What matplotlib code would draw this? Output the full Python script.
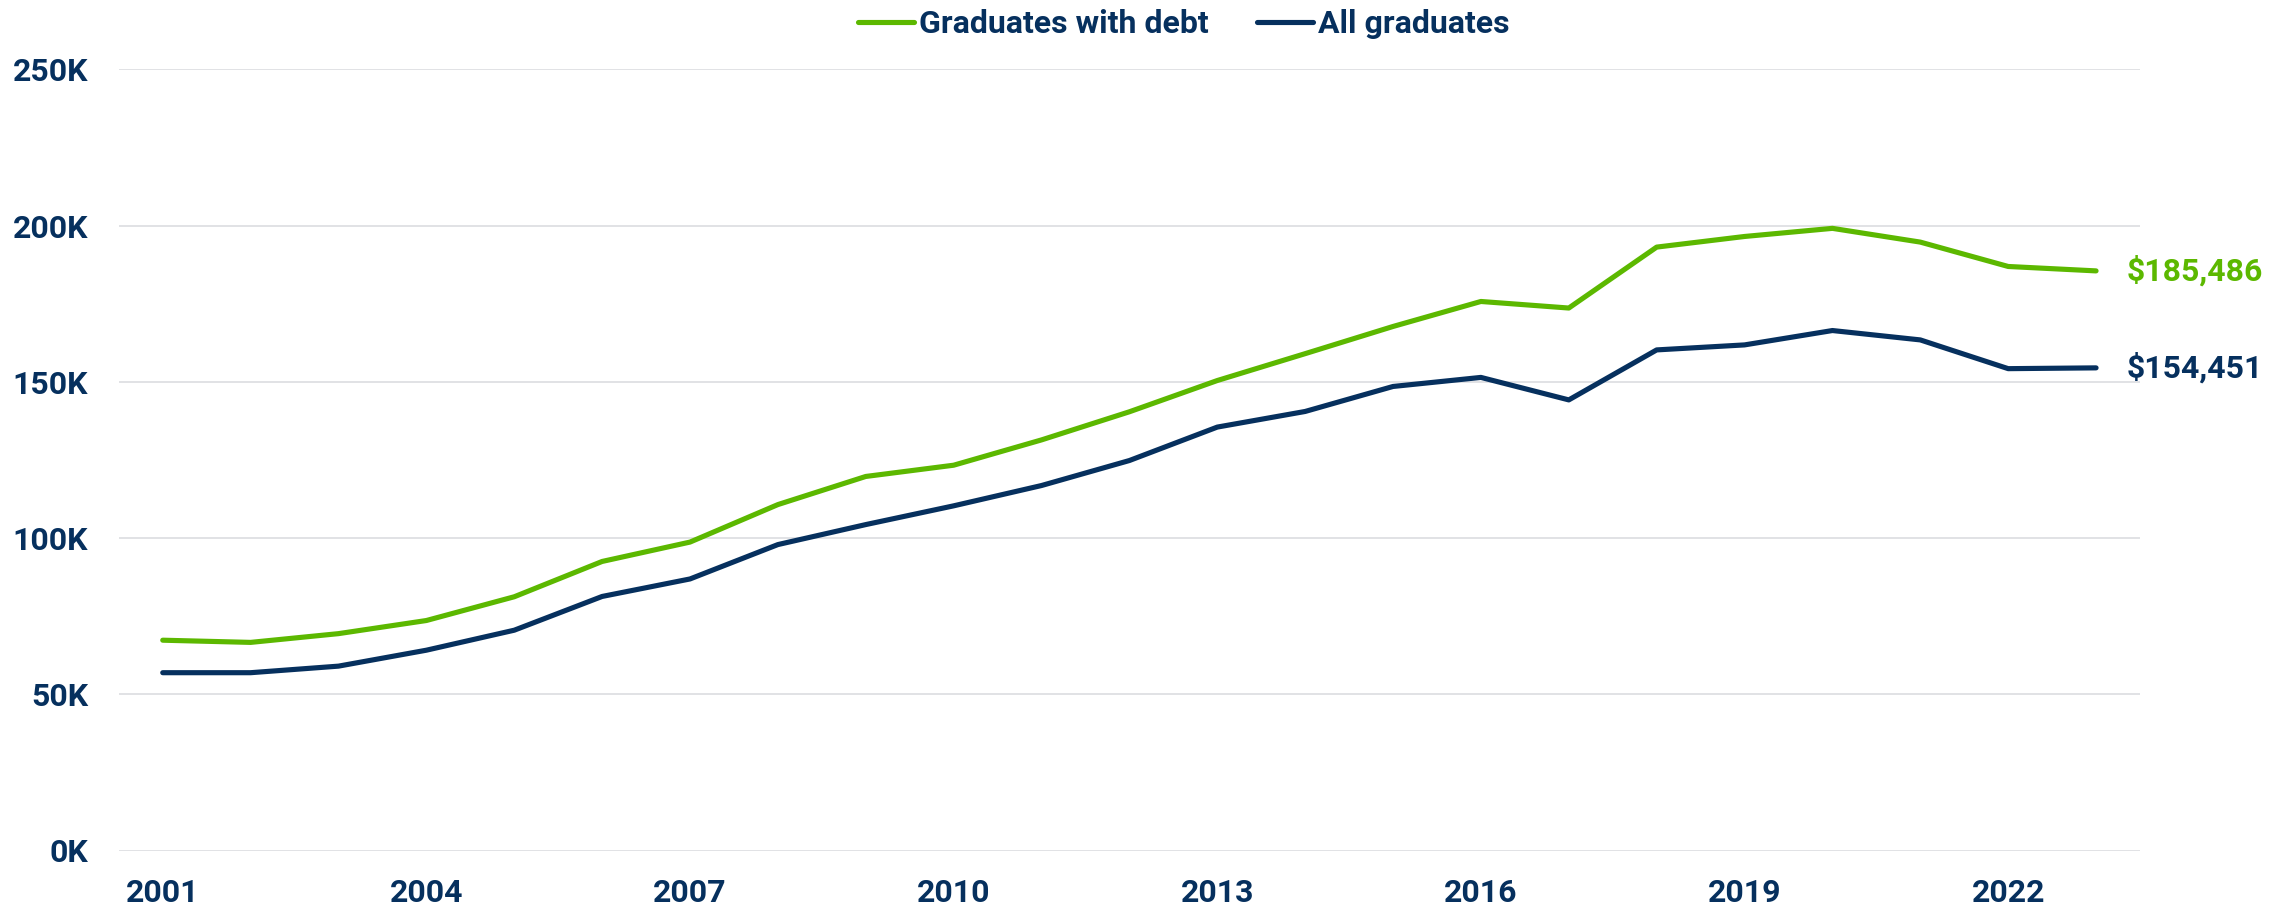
import matplotlib
matplotlib.use('Agg')
import matplotlib.pyplot as plt
from matplotlib.ticker import FuncFormatter

years = list(range(2001, 2024))
with_debt = [67300, 66600, 69400, 73600, 81200, 92500, 98700, 110700, 119700, 123300,
             131400, 140400, 150400, 159000, 167700, 175700, 173600, 193100, 196500,
             199100, 194700, 186900, 185486]
all_grads = [56900, 56900, 59000, 64100, 70500, 81300, 86900, 97900, 104300, 110300,
             116800, 124800, 135500, 140500, 148500, 151400, 144200, 160200, 161800,
             166400, 163400, 154200, 154451]
series_names = ['Graduates with debt', 'All graduates']
xticks = [2001, 2004, 2007, 2010, 2013, 2016, 2019, 2022]
yticks = [0, 50000, 100000, 150000, 200000, 250000]

GREEN = '#5cb800'
NAVY = '#06305e'
plt.rcParams['font.family'] = ['Roboto', 'DejaVu Sans']
plt.rcParams['font.weight'] = 'bold'

fig = plt.figure(figsize=(22.9, 9.06), dpi=100)
ax = fig.add_axes([118.8 / 2290, 1 - 850.5 / 906, (2140 - 118.8) / 2290, (850.5 - 69.3) / 906])

l1, = ax.plot(years, with_debt, color=GREEN, lw=3.7, solid_capstyle='round', solid_joinstyle='round', label=series_names[0])
l2, = ax.plot(years, all_grads, color=NAVY, lw=3.7, solid_capstyle='round', solid_joinstyle='round', label=series_names[1])

# end-of-line value labels
for vals, c in [(with_debt, GREEN), (all_grads, NAVY)]:
    ax.annotate(f'${vals[-1]:,}', (years[-1], vals[-1]), xytext=(22, 0), textcoords='offset points',
                va='center', ha='left', fontsize=23, fontweight='bold', color=c, annotation_clip=False)

ax.set_xlim(2000.5, 2023.5)
ax.set_ylim(0, 250000)
ax.set_xticks(xticks)
ax.set_yticks(yticks)
ax.yaxis.set_major_formatter(FuncFormatter(lambda v, p: f'{int(v / 1000)}K'))
ax.tick_params(length=0, labelsize=23, labelcolor=NAVY)
ax.tick_params(axis='y', pad=22)
ax.tick_params(axis='x', pad=20)
for lbl in ax.get_xticklabels() + ax.get_yticklabels():
    lbl.set_fontweight('bold')
ax.grid(axis='y', color='#dcdde0', lw=1.2)
ax.set_axisbelow(True)
for s in ax.spines.values():
    s.set_visible(False)

leg = fig.legend(handles=[l1, l2], loc='center', bbox_to_anchor=(1184 / 2290, 1 - 24 / 906), ncol=2,
                 frameon=False, fontsize=23, handlelength=1.75, handletextpad=0.17, columnspacing=1.5,
                 borderpad=0, borderaxespad=0)
for t in leg.get_texts():
    t.set_color(NAVY)
    t.set_fontweight('bold')

fig.savefig('out.png', dpi=100)
